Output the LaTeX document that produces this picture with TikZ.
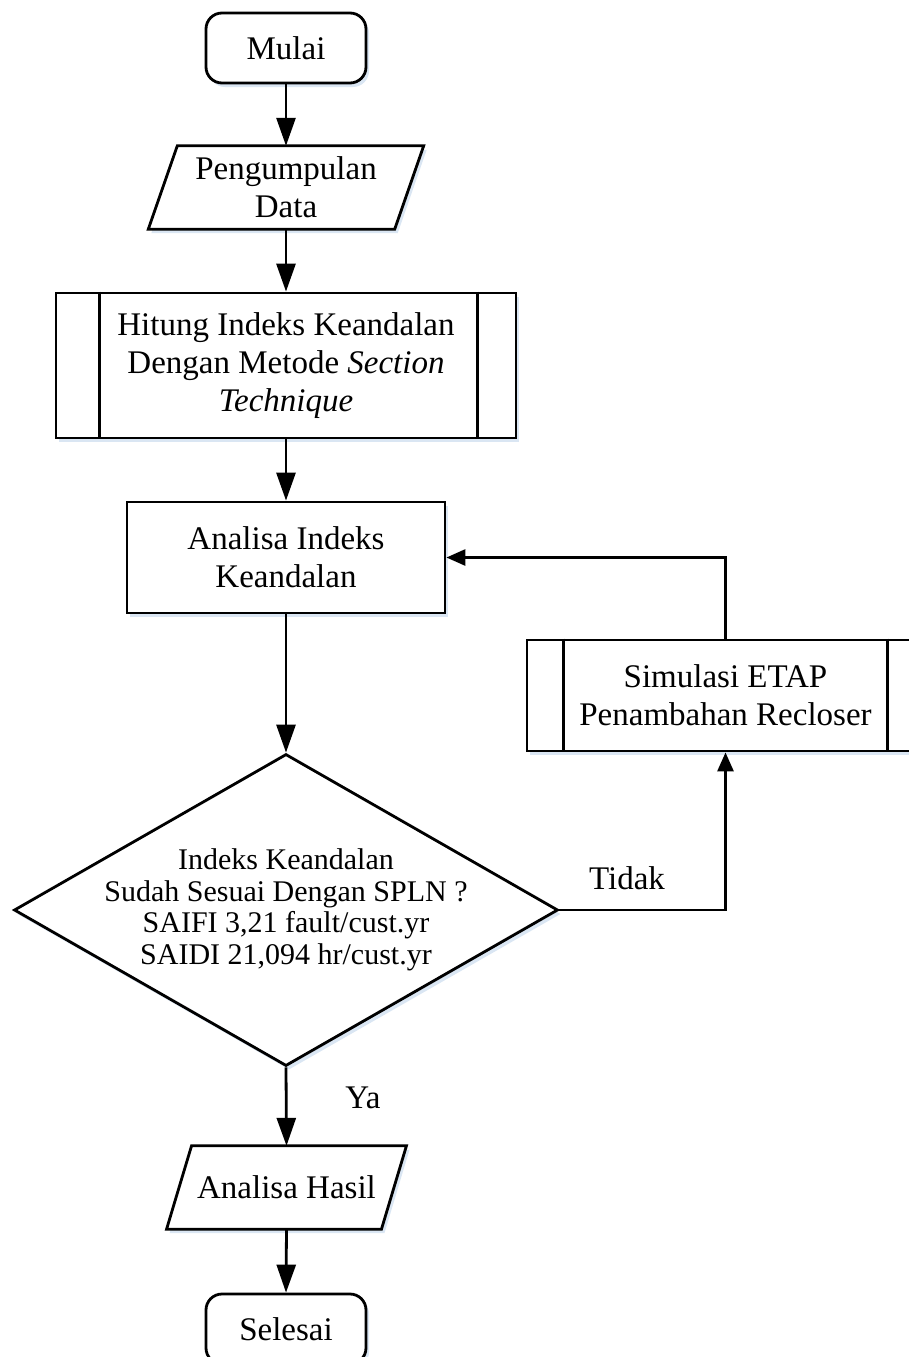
\documentclass[tikz,border=0pt]{standalone}
\usepackage{fontspec}
\setmainfont{Liberation Serif}
\usetikzlibrary{arrows.meta,shapes.geometric,shadows}

\definecolor{halo}{RGB}{218,230,243}
\pgfdeclarelayer{bg}
\pgfsetlayers{bg,main}

\begin{document}
\begin{tikzpicture}[x=1pt,y=-1pt,
  every node/.style={font=\fontsize{33}{38}\selectfont, align=center},
  outline/.style={draw=black, line width=2.8pt, fill=white,
    drop shadow={shadow xshift=3pt, shadow yshift=-4pt, fill=halo, opacity=1}},
  terminal/.style={outline, rounded corners=16pt, minimum width=160pt, minimum height=70pt},
  procbox/.style={outline, minimum width=318pt, minimum height=111pt},
  subproc/.style={outline, inner sep=0pt},
  iotext/.style={inner sep=0pt},
  decision/.style={outline, diamond, inner sep=0pt, aspect=1.74},
  edge line/.style={line width=2.8pt},
  flow/.style={line width=2.8pt, -{Triangle[length=28pt,width=19pt]}},
  sideflow/.style={line width=2.8pt, -{Triangle[length=19pt,width=16pt]}},
  smalltext/.style={font=\fontsize{30}{31.5}\selectfont}
]
\useasboundingbox (0,0) rectangle (909,1357);
\clip (0,0) rectangle (909,1357);

% terminals
\node[terminal] (start) at (286,48) {Mulai};
\node[terminal] (finish) at (286,1329) {Selesai};

% input / output (parallelograms drawn on the background layer)
\node[iotext, minimum width=246pt, minimum height=83pt] (data) at (286,187.5) {Pengumpulan\\Data};
\node[iotext, minimum width=214.5pt, minimum height=83pt] (hasil) at (286.5,1187.5) {Analisa Hasil};
\begin{pgfonlayer}{bg}
  \draw[outline] ([xshift=14.5pt]data.north west) -- ([xshift=14.5pt]data.north east)
    -- ([xshift=-14.5pt]data.south east) -- ([xshift=-14.5pt]data.south west) -- cycle;
  \draw[outline] ([xshift=12.5pt]hasil.north west) -- ([xshift=12.5pt]hasil.north east)
    -- ([xshift=-12.5pt]hasil.south east) -- ([xshift=-12.5pt]hasil.south west) -- cycle;
\end{pgfonlayer}

% predefined processes
\node[subproc, minimum width=460pt, minimum height=145pt] (hitung) at (286,365.5)
  {Hitung Indeks Keandalan\\Dengan Metode \textit{Section}\\\textit{Technique}};
\draw[edge line] ([xshift=45pt]hitung.north west) -- ([xshift=45pt]hitung.south west);
\draw[edge line] ([xshift=-40pt]hitung.north east) -- ([xshift=-40pt]hitung.south east);

\node[subproc, minimum width=397pt, minimum height=111pt] (sim) at (725.5,695.5)
  {Simulasi ETAP\\Penambahan Recloser};
\draw[edge line] ([xshift=38pt]sim.north west) -- ([xshift=38pt]sim.south west);
\draw[edge line] ([xshift=-38pt]sim.north east) -- ([xshift=-38pt]sim.south east);

% process
\node[procbox] (analisa) at (286,557.5) {Analisa Indeks\\Keandalan};

% decision
\node[decision, minimum width=544pt, minimum height=312pt] (dec) at (286,910) {};
\node[smalltext] (dectext) at (dec.center)
  {Indeks Keandalan\\Sudah Sesuai Dengan SPLN ?\\SAIFI 3,21 fault/cust.yr\\SAIDI 21,094 hr/cust.yr};

% connectors
\draw[flow] (start.south) -- (data.north);
\draw[flow] (data.south) -- (hitung.north);
\draw[flow] (hitung.south) -- (analisa.north);
\draw[flow] (analisa.south) -- (dec.north);
\draw[flow] (dec.south) -- (hasil.north);
\draw[flow] (hasil.south) -- (finish.north);
\draw[sideflow] (dec.east) -| (sim.south);
\draw[sideflow] (sim.north) |- (analisa.east);

% branch labels
\node (ya) at (363,1098) {Ya};
\node (tidak) at (627,878) {Tidak};
\end{tikzpicture}
\end{document}
